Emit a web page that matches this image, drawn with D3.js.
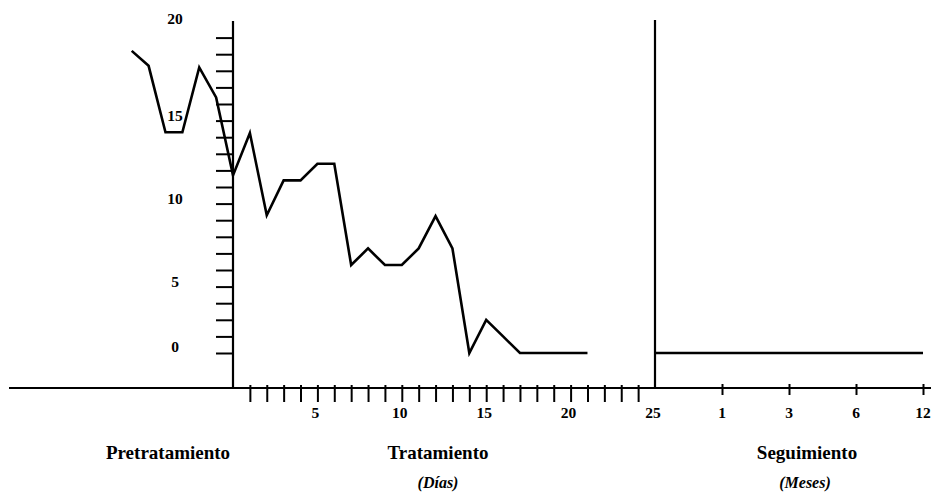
<!DOCTYPE html>
<html><head><meta charset="utf-8">
<script src="https://cdn.jsdelivr.net/npm/d3@7"></script>
<style>
html,body{margin:0;padding:0;background:#fff;}
svg{display:block;}
text{font-family:"Liberation Serif","Times New Roman",serif;fill:#000;}
</style></head>
<body><svg id="c" width="931" height="496"></svg>
<script>
// ---- data ----
const days = [-6,-5,-4,-3,-2,-1,0,1,2,3,4,5,6,7,8,9,10,11,12,13,14,15,16,17,18,19,20,21];
const scores = [18.2,17.3,13.3,13.3,17.2,15.4,10.7,13.25,8.3,10.4,10.4,11.4,11.4,5.3,6.3,5.3,5.3,6.3,8.25,6.3,0,2,1,0,0,0,0,0];
const followMonths = ["0","1","3","6","12"];
const followScores = [0,0,0,0,0];
const yTickLabels = [0,5,10,15,20];
const dayTickLabels = [5,10,15,20,25];
const monthTickLabels = ["1","3","6","12"];
const dayTicks = d3.range(1,25);
const yTicks = d3.range(0,20);
const sectionLabels = ["Pretratamiento","Tratamiento","Seguimiento"];
const unitLabels = ["(Días)","(Meses)"];

// ---- scales ----
const x = d3.scaleLinear().domain([0,25]).range([233,655]);
const y = d3.scaleLinear().domain([0,20]).range([353,21]);
const xf = d3.scalePoint().domain(followMonths).range([655,923]);
const baseY = 388;

const svg = d3.select("#c");

// horizontal base axis
svg.append("line").attr("x1",9).attr("x2",931).attr("y1",baseY).attr("y2",baseY)
  .attr("stroke","#000").attr("stroke-width",2);

// y axis (left ticks)
const yAxis = d3.axisLeft(y).tickValues(yTicks).tickSize(17).tickFormat("");
const gy = svg.append("g").attr("transform",`translate(${x(0)},0)`).call(yAxis);
gy.select(".domain").remove();
gy.selectAll(".tick line").attr("stroke","#000").attr("stroke-width",2);
svg.append("line").attr("x1",x(0)).attr("x2",x(0)).attr("y1",y(20)).attr("y2",baseY)
  .attr("stroke","#000").attr("stroke-width",2.2);

// y tick labels
svg.selectAll("text.yl").data(yTickLabels).join("text").attr("class","yl")
  .attr("x",175).attr("y",d=>y(d)+(d===0?-6:d===20?-2:12))
  .attr("dy","0.35em").attr("text-anchor","middle")
  .attr("font-size",15.5).attr("font-weight","bold").text(d=>d);

// day ticks
const xAxis = d3.axisBottom(x).tickValues(dayTicks).tickSize(17).tickFormat("");
const gx = svg.append("g").attr("transform",`translate(0,${baseY-3})`).call(xAxis);
gx.select(".domain").remove();
gx.selectAll(".tick line").attr("stroke","#000").attr("stroke-width",2);
svg.selectAll("text.xl").data(dayTickLabels).join("text").attr("class","xl")
  .attr("x",d=>x(d)-2).attr("y",413).attr("dy","0.35em").attr("text-anchor","middle")
  .attr("font-size",15.5).attr("font-weight","bold").text(d=>d);

// follow-up vertical line
svg.append("line").attr("x1",x(25)).attr("x2",x(25)).attr("y1",y(20)-1).attr("y2",baseY)
  .attr("stroke","#000").attr("stroke-width",2.2);

// month ticks
const mAxis = d3.axisBottom(xf).tickValues(monthTickLabels).tickSize(11).tickFormat("");
const gm = svg.append("g").attr("transform",`translate(0,${baseY-4})`).call(mAxis);
gm.select(".domain").remove();
gm.selectAll(".tick line").attr("stroke","#000").attr("stroke-width",2);
svg.selectAll("text.ml").data(monthTickLabels).join("text").attr("class","ml")
  .attr("x",d=>xf(d)).attr("y",413).attr("dy","0.35em").attr("text-anchor","middle")
  .attr("font-size",15.5).attr("font-weight","bold").text(d=>d);

// data lines
const line = d3.line().x((d,i)=>x(days[i])).y(d=>y(d));
svg.append("path").datum(scores).attr("d",line).attr("fill","none")
  .attr("stroke","#000").attr("stroke-width",2.6).attr("stroke-linejoin","miter");
const fline = d3.line().x((d,i)=>xf(followMonths[i])).y(d=>y(d));
svg.append("path").datum(followScores).attr("d",fline).attr("fill","none")
  .attr("stroke","#000").attr("stroke-width",2.6);

// section labels
const secX = [168, 438, 807];
svg.selectAll("text.sec").data(sectionLabels).join("text").attr("class","sec")
  .attr("x",(d,i)=>secX[i]).attr("y",452).attr("dy","0.35em").attr("text-anchor","middle")
  .attr("font-size",19).attr("font-weight","bold").text(d=>d);
const unitX = [438, 805];
svg.selectAll("text.unit").data(unitLabels).join("text").attr("class","unit")
  .attr("x",(d,i)=>unitX[i]).attr("y",482).attr("dy","0.35em").attr("text-anchor","middle")
  .attr("font-size",16).attr("font-style","italic").attr("font-weight","bold").text(d=>d);
</script></body></html>
